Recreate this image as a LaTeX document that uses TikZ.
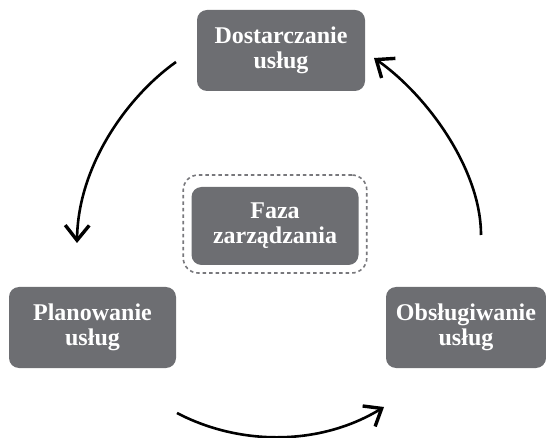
\documentclass[tikz,border=0pt]{standalone}
\usepackage{fontspec}
\setmainfont{Liberation Serif}
\usetikzlibrary{arrows.meta}
\definecolor{boxgray}{RGB}{109,110,114}
\definecolor{dashgray}{RGB}{120,120,124}
\tikzset{
  phase/.style={draw=none, fill=boxgray, rounded corners=10pt, inner sep=0pt,
    align=center, text=white, font=\fontsize{24}{25}\selectfont\bfseries},
  frame/.style={draw=dashgray, line width=1.6pt, dash pattern=on 3.5pt off 3pt,
    rounded corners=15pt, inner sep=0pt},
  cycle/.style={line width=2.6pt, -{Straight Barb[length=15pt,width=24pt,line width=3.4pt]}}
}
\begin{document}
\begin{tikzpicture}[x=1pt,y=-1pt]
\useasboundingbox (0,0) rectangle (546,438);
\node[frame, minimum width=183.5pt, minimum height=98pt] (fazaframe) at (275,224) {};
\node[phase, minimum width=167pt, minimum height=78pt] (faza) at (275,226) {Faza\\zarządzania};
\node[phase, minimum width=168pt, minimum height=81pt] (dost) at (281,50.5) {Dostarczanie\\usług};
\node[phase, minimum width=167pt, minimum height=81pt] (plan) at (92.5,327.5) {Planowanie\\usług};
\node[phase, minimum width=160pt, minimum height=81pt] (obs) at (466,327.5) {Obsługiwanie\\usług};
\coordinate (l1) at (176,62);
\coordinate (l2) at (77,243);
\coordinate (b1) at (177,413);
\coordinate (b2) at (384,407);
\coordinate (r1) at (481,235);
\coordinate (r2) at (374,58);
\draw[cycle] (l1) .. controls (128,96) and (78,165) .. (l2);
\draw[cycle] (b1) .. controls (240,446) and (320,446) .. (b2);
\draw[cycle] (r1) .. controls (481,170) and (428,96) .. (r2);
\end{tikzpicture}
\end{document}
